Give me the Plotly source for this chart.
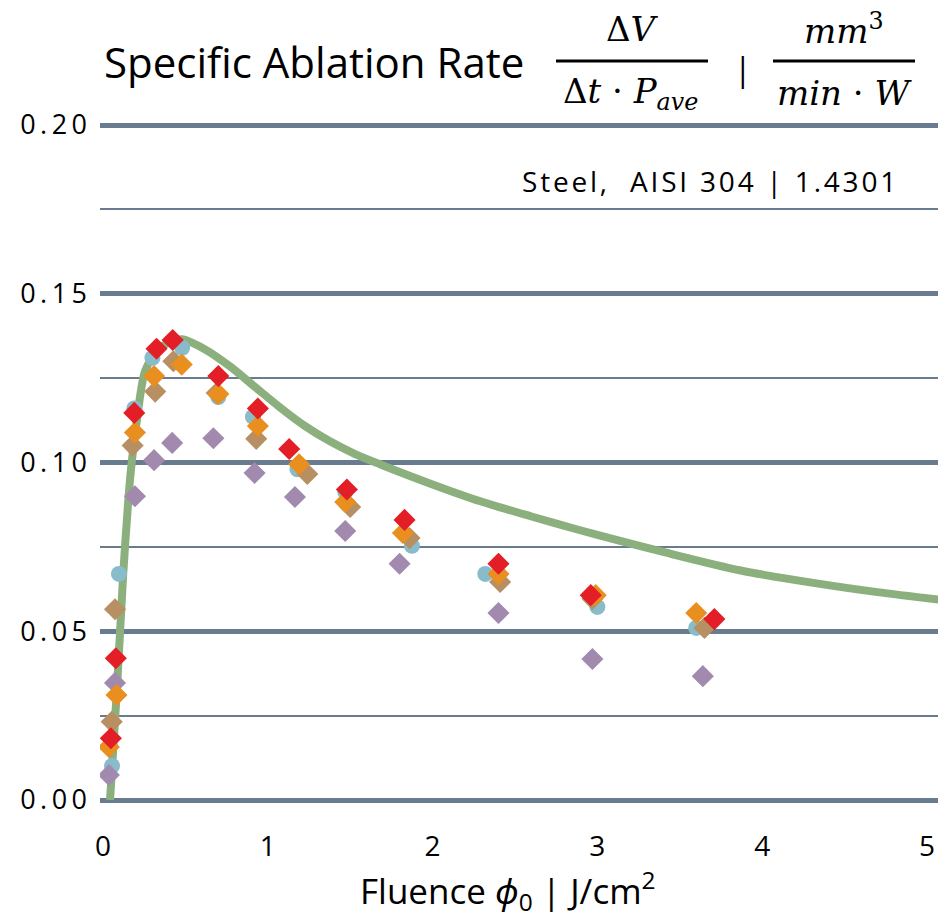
import plotly.graph_objects as go

# ---------------- data ----------------
blue_x = [0.055, 0.097, 0.19, 0.30, 0.48, 0.70, 0.91, 1.18, 1.47, 1.875, 2.32, 3.00, 3.60]
blue_y = [0.0101, 0.067, 0.116, 0.131, 0.134, 0.1194, 0.1135, 0.098, 0.0913, 0.0753, 0.067, 0.0572, 0.051]

purple_x = [0.036, 0.073, 0.194, 0.31, 0.42, 0.67, 0.92, 1.165, 1.47, 1.80, 2.40, 2.97, 3.64]
purple_y = [0.0074, 0.0347, 0.090, 0.1007, 0.1058, 0.1072, 0.0969, 0.0898, 0.0797, 0.070, 0.0554, 0.0418, 0.0367]

tan_x = [0.053, 0.073, 0.18, 0.317, 0.427, 0.69, 0.93, 1.24, 1.50, 1.86, 2.41, 2.97, 3.65]
tan_y = [0.0232, 0.0565, 0.105, 0.121, 0.130, 0.1206, 0.107, 0.0966, 0.0868, 0.0776, 0.0646, 0.0596, 0.051]

orange_x = [0.036, 0.082, 0.194, 0.31, 0.478, 0.70, 0.94, 1.19, 1.47, 1.82, 2.40, 2.99, 3.60]
orange_y = [0.0157, 0.0311, 0.1089, 0.1256, 0.129, 0.1203, 0.1108, 0.0995, 0.0883, 0.0791, 0.067, 0.0607, 0.0554]

red_x = [0.048, 0.078, 0.19, 0.325, 0.423, 0.70, 0.94, 1.13, 1.48, 1.83, 2.40, 2.96, 3.71]
red_y = [0.0183, 0.042, 0.1147, 0.1337, 0.1363, 0.1256, 0.116, 0.104, 0.092, 0.083, 0.070, 0.0607, 0.0536]

model_x = [0.043, 0.085, 0.123, 0.154, 0.174, 0.206, 0.255, 0.33, 0.40, 0.48, 0.62, 0.77, 0.92,
           1.07, 1.22, 1.38, 1.53, 1.68, 2.00, 2.29, 2.60, 2.89, 3.15, 3.40, 3.87, 4.33, 4.70, 5.07]
model_y = [0.0, 0.033, 0.067, 0.089, 0.0998, 0.1126, 0.127, 0.1333, 0.1355, 0.1365, 0.1335, 0.1285,
           0.1225, 0.1165, 0.111, 0.1062, 0.1025, 0.0995, 0.0935, 0.0885, 0.084, 0.080, 0.0766,
           0.0735, 0.068, 0.0642, 0.0616, 0.0594]

y_ticks = [0.0, 0.05, 0.10, 0.15, 0.20]
y_tick_labels = ["0.00", "0.05", "0.10", "0.15", "0.20"]
x_ticks = [0, 1, 2, 3, 4, 5]
x_tick_labels = ["0", "1", "2", "3", "4", "5"]

# ---------------- layout geometry ----------------
W, H = 948, 921
L, R, T, B = 100, 10, 120, 116
PW, PH = W - L - R, H - T - B


def px(xp):
    return (xp - L) / PW


def py(yp):
    return (T + PH - yp) / PH


GRID = "#687b8f"
SANS = "Open Sans, Noto Sans, sans-serif"
SERIF = "DejaVu Serif, Liberation Serif, serif"
HAIR = "\u200a"
THIN = "\u2009"

fig = go.Figure()

fig.add_trace(go.Scatter(x=model_x, y=model_y, mode="lines",
                         line=dict(color="#8bb07d", width=8, shape="spline", smoothing=0.8),
                         showlegend=False, hoverinfo="skip"))

series = [
    (blue_x, blue_y, "#88bccb", "circle", 16),
    (purple_x, purple_y, "#a289ae", "diamond", 17),
    (tan_x, tan_y, "#b88f62", "diamond", 17),
    (orange_x, orange_y, "#e98f1f", "diamond", 17),
    (red_x, red_y, "#e31e26", "diamond", 17),
]
for xs, ys, col, sym, sz in series:
    fig.add_trace(go.Scatter(x=xs, y=ys, mode="markers",
                             marker=dict(color=col, symbol=sym, size=sz, line=dict(width=0)),
                             showlegend=False))

fig.update_layout(
    width=W, height=H,
    margin=dict(l=L, r=R, t=T, b=B),
    paper_bgcolor="white", plot_bgcolor="white",
    font=dict(family=SANS, color="black"),
    xaxis=dict(range=[-0.018, 5.067], tickvals=x_ticks, ticktext=x_tick_labels,
               showgrid=False, zeroline=False, showline=False, ticks="",
               tickfont=dict(size=28, family=SANS), ticklabelstandoff=22),
    yaxis=dict(range=[-0.00148, 0.20148], tickvals=y_ticks,
               ticktext=[THIN.join(s) for s in y_tick_labels],
               showgrid=True, gridcolor=GRID, gridwidth=5, zeroline=False, showline=False,
               ticks="", tickfont=dict(size=27, family=SANS), ticklabelstandoff=12,
               minor=dict(tickvals=[0.025, 0.075, 0.125, 0.175], showgrid=True,
                          gridcolor=GRID, gridwidth=2)),
)

steel_text = HAIR.join("Steel,  AISI 304 | 1.4301")

# Title pieces
ann = []
ann.append(dict(text="Specific Ablation Rate", x=px(102), y=py(62), xanchor="left", yanchor="middle",
                font=dict(size=42, family=SANS)))
# fraction 1
ann.append(dict(text="Δ<i>V</i>", x=px(632), y=py(29), xanchor="center", yanchor="middle",
                font=dict(size=34, family=SERIF)))
ann.append(dict(text="Δ<i>t</i> · <i>P</i><sub><i>ave</i></sub>", x=px(630), y=py(93),
                xanchor="center", yanchor="middle", font=dict(size=34, family=SERIF)))
ann.append(dict(text="|", x=px(743), y=py(68), xanchor="center", yanchor="middle",
                font=dict(size=32, family=SANS)))
# fraction 2
ann.append(dict(text="<i>mm</i><sup>3</sup>", x=px(844), y=py(29), xanchor="center", yanchor="middle",
                font=dict(size=34, family=SERIF)))
ann.append(dict(text="<i>min</i> · <i>W</i>", x=px(844), y=py(93), xanchor="center", yanchor="middle",
                font=dict(size=34, family=SERIF)))
# material label
ann.append(dict(text=steel_text, x=px(898), y=py(181), xanchor="right",
                yanchor="middle", font=dict(size=28, family=SANS)))
# x-axis title
ann.append(dict(text="Fluence <i>ϕ</i><sub>0</sub> | J/cm<sup>2</sup>", x=px(508), y=py(891),
                xanchor="center", yanchor="middle", font=dict(size=35, family=SANS)))
for a in ann:
    a.update(xref="paper", yref="paper", showarrow=False)
fig.update_layout(annotations=ann)

fig.update_layout(shapes=[
    dict(type="line", xref="paper", yref="paper", x0=px(556), x1=px(708), y0=py(61), y1=py(61),
         line=dict(color="black", width=3)),
    dict(type="line", xref="paper", yref="paper", x0=px(773), x1=px(915), y0=py(61), y1=py(61),
         line=dict(color="black", width=3)),
])

fig.write_html("out.html")
